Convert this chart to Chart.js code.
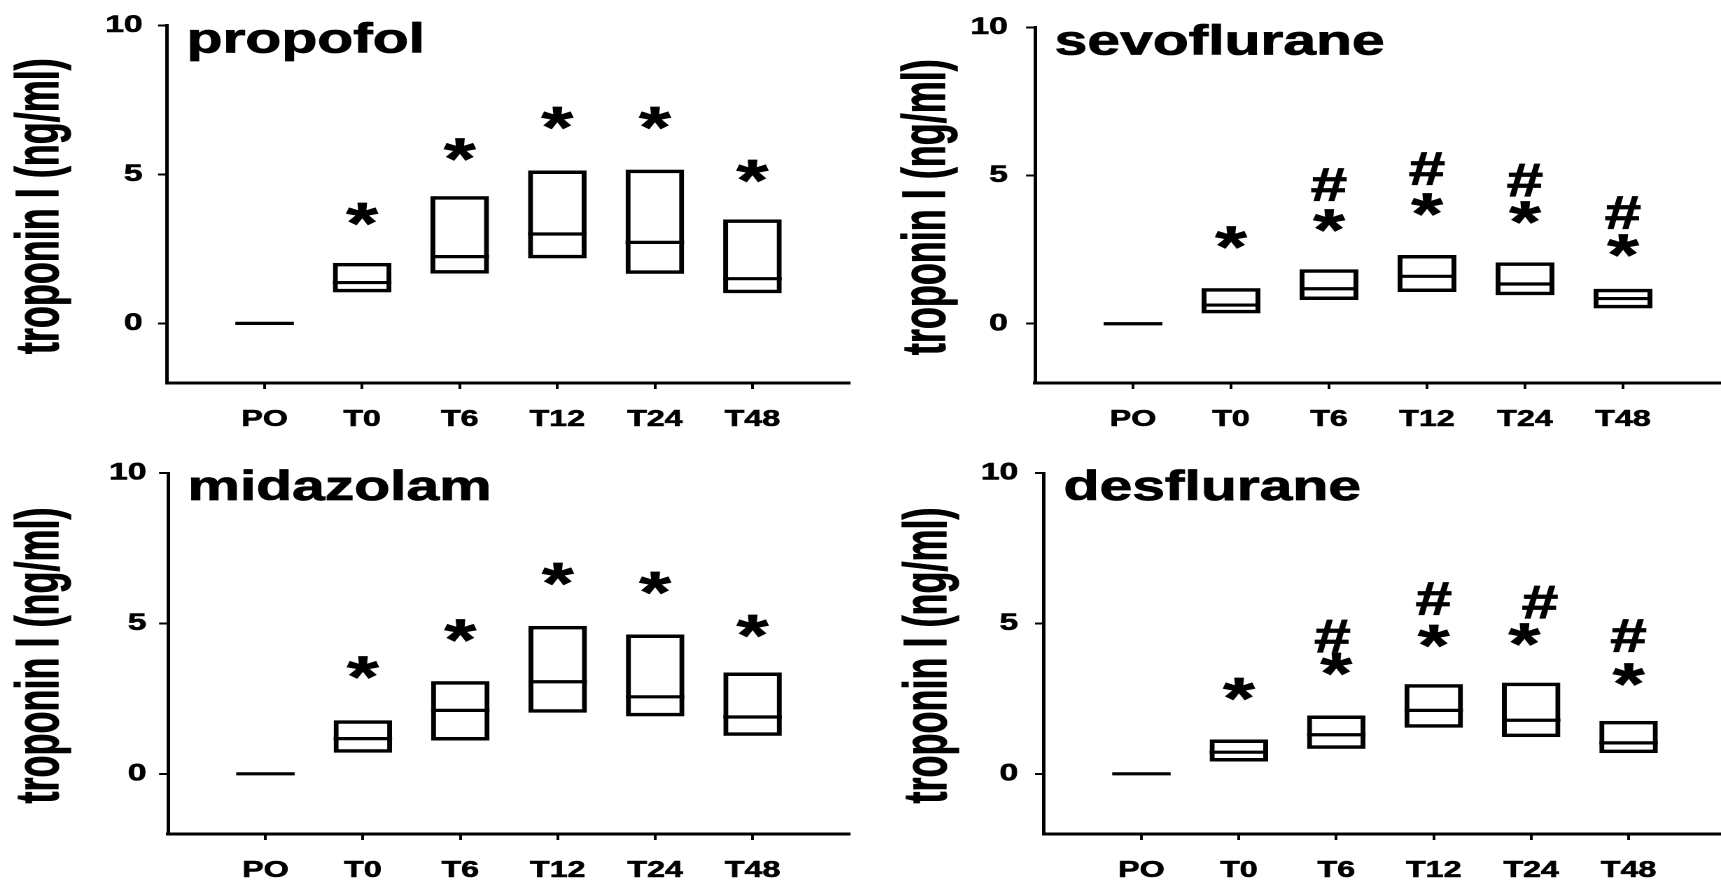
<!DOCTYPE html>
<html>
<head>
<meta charset="utf-8">
<script src="https://cdn.jsdelivr.net/npm/chart.js@4.4.1/dist/chart.umd.min.js"></script>
<style>
  html, body { margin: 0; padding: 0; background: #fff; overflow: hidden; }
  body { width: 1721px; height: 886px; position: relative; }
  .panel { position: absolute; transform-origin: 0 0; transform: scaleX(1.4); }
</style>
</head>
<body>
<div class="panel" style="left:0px;top:0px"><canvas id="c0"></canvas></div>
<div class="panel" style="left:860px;top:0px"><canvas id="c1"></canvas></div>
<div class="panel" style="left:0px;top:443px"><canvas id="c2"></canvas></div>
<div class="panel" style="left:860px;top:443px"><canvas id="c3"></canvas></div>
<script>
// categories and axis ticks
const xLabels = ['PO', 'T0', 'T6', 'T12', 'T24', 'T48'];
const yTicks = [0, 5, 10];
const yTitle = 'troponin I (ng/ml)';

// propofol: box low / median / high, marker heights
const propofolLow = [0, 1.04, 1.67, 2.18, 1.66, 1.01];
const propofolMedian = [0, 1.37, 2.24, 3.0, 2.72, 1.5];
const propofolHigh = [0, 2.03, 4.27, 5.13, 5.16, 3.49];
const propofolStar = [null, 3.66, 5.82, 6.88, 6.88, 5.1];
const propofolHash = [null, null, null, null, null, null];

// sevoflurane
const sevoLow = [0, 0.35, 0.8, 1.07, 0.96, 0.52];
const sevoMedian = [0, 0.63, 1.18, 1.6, 1.34, 0.85];
const sevoHigh = [0, 1.2, 1.84, 2.32, 2.07, 1.18];
const sevoStar = [null, 2.9, 3.47, 4.01, 3.73, 2.63];
const sevoHash = [null, null, 4.68, 5.23, 4.84, 3.73];

// midazolam
const midaLow = [0, 0.7, 1.11, 2.03, 1.91, 1.26];
const midaMedian = [0, 1.17, 2.11, 3.06, 2.56, 1.89];
const midaHigh = [0, 1.78, 3.08, 4.92, 4.63, 3.37];
const midaStar = [null, 3.52, 4.74, 6.63, 6.33, 4.89];
const midaHash = [null, null, null, null, null, null];

// desflurane
const desLow = [0, 0.41, 0.83, 1.53, 1.22, 0.69];
const desMedian = [0, 0.72, 1.3, 2.11, 1.78, 1.03];
const desHigh = [0, 1.14, 1.94, 2.98, 3.03, 1.76];
const desStar = [null, 2.8, 3.64, 4.56, 4.61, 3.28];
const desHash = [null, null, 4.56, 5.81, 5.69, 4.58];
const desStarShift = [0, 0, 0, 0, -0.07, 0];
const desHashShift = [0, 0, -0.04, 0, 0.09, 0];

const FONT = "'Liberation Sans', Arial, sans-serif";
const STRETCH = 1.4;      // the figure is drawn wider than tall
const BOX_HALF = 0.3;     // half box width in x units

// where each panel sits on the page (page pixels)
const panels = [
  { id: 'c0', name: 'propofol', low: propofolLow, med: propofolMedian, high: propofolHigh, star: propofolStar, hash: propofolHash,
    left: 0, top: 0, axisX: 167, rightX: 850, topY: 23, bottomY: 383, titleX: 41, tickPad: 11 },
  { id: 'c1', name: 'sevoflurane', low: sevoLow, med: sevoMedian, high: sevoHigh, star: sevoStar, hash: sevoHash,
    left: 860, top: 0, axisX: 1035, rightX: 1721, topY: 23, bottomY: 383, titleX: 928, tickPad: 13 },
  { id: 'c2', name: 'midazolam', low: midaLow, med: midaMedian, high: midaHigh, star: midaStar, hash: midaHash,
    left: 0, top: 443, axisX: 168, rightX: 850, topY: 473, bottomY: 834, titleX: 41, tickPad: 9 },
  { id: 'c3', name: 'desflurane', low: desLow, med: desMedian, high: desHigh, star: desStar, hash: desHash,
    starShift: desStarShift, hashShift: desHashShift,
    left: 860, top: 443, axisX: 1044, rightX: 1726, topY: 473, bottomY: 834, titleX: 929, tickPad: 12 }
];

function drawMark(ctx, ch, font, x, y) {
  ctx.font = font;
  const m = ctx.measureText(ch);
  ctx.textAlign = 'center';
  ctx.textBaseline = 'alphabetic';
  const yy = y + (m.actualBoundingBoxAscent - m.actualBoundingBoxDescent) / 2;
  ctx.fillText(ch, x, yy);
  ctx.strokeText(ch, x, yy);
}

function makeChart(p) {
  const canvas = document.getElementById(p.id);
  const innerRight = (p.rightX - p.left) / STRETCH;
  const w = Math.ceil(innerRight) + 3;
  canvas.width = w;
  canvas.height = 443;

  const boxes = [];
  const medians = [];
  xLabels.forEach((lab, i) => {
    if (p.high[i] > p.low[i]) boxes.push({ x: i + 1, y: [p.low[i], p.high[i]] });
    medians.push({ x: i + 1 - BOX_HALF, y: p.med[i] });
    medians.push({ x: i + 1 + BOX_HALF, y: p.med[i] });
    medians.push({ x: i + 1.5, y: null });
  });

  // panel name, y title, asterisks and hashes
  const marks = {
    id: 'marks',
    afterDraw(chart) {
      const { ctx, chartArea, scales } = chart;
      ctx.save();
      ctx.fillStyle = '#000';
      ctx.strokeStyle = '#000';
      ctx.lineWidth = 0.8;
      ctx.font = `bold 42px ${FONT}`;
      ctx.textAlign = 'left';
      ctx.textBaseline = 'alphabetic';
      ctx.fillText(p.name, chartArea.left + 14, chartArea.top + 27);
      ctx.strokeText(p.name, chartArea.left + 14, chartArea.top + 27);

      // rotated axis title, a bit heavier than the stock one
      ctx.save();
      ctx.translate((p.titleX - p.left) / STRETCH, (chartArea.top + chartArea.bottom) / 2 + 2);
      ctx.rotate(-Math.PI / 2);
      ctx.scale(1, 1.22);
      ctx.font = `bold 36px ${FONT}`;
      ctx.textAlign = 'center';
      ctx.textBaseline = 'middle';
      ctx.fillText(yTitle, 0, 0);
      ctx.lineWidth = 0.6;
      ctx.strokeText(yTitle, 0, 0);
      ctx.restore();

      ctx.lineWidth = 0.8;
      xLabels.forEach((lab, i) => {
        if (p.star[i] != null) {
          const dx = p.starShift ? p.starShift[i] : 0;
          drawMark(ctx, '*', `bold 58px ${FONT}`, scales.x.getPixelForValue(i + 1 + dx), scales.y.getPixelForValue(p.star[i]));
        }
        if (p.hash[i] != null) {
          const dx = p.hashShift ? p.hashShift[i] : 0;
          drawMark(ctx, '#', `bold 47px ${FONT}`, scales.x.getPixelForValue(i + 1 + dx), scales.y.getPixelForValue(p.hash[i]));
        }
      });
      ctx.restore();
    }
  };

  return new Chart(canvas, {
    type: 'bar',
    data: {
      datasets: [
        {
          type: 'bar',
          data: boxes,
          backgroundColor: 'rgba(0,0,0,0)',
          borderColor: '#000',
          borderWidth: 3.5,
          borderSkipped: false,
          barPercentage: 2 * BOX_HALF,
          categoryPercentage: 1,
          grouped: false
        },
        {
          type: 'line',
          data: medians,
          borderColor: '#000',
          borderWidth: 3.2,
          pointRadius: 0,
          spanGaps: false,
          tension: 0
        }
      ]
    },
    options: {
      responsive: false,
      animation: false,
      devicePixelRatio: 2,
      layout: { padding: { top: p.topY - p.top, right: w - innerRight, left: 0, bottom: 0 } },
      plugins: {
        legend: { display: false },
        tooltip: { enabled: false },
        title: { display: false }
      },
      scales: {
        x: {
          type: 'linear',
          min: 0,
          max: 7,
          offset: false,
          afterBuildTicks: a => { a.ticks = xLabels.map((lab, i) => ({ value: i + 1 })); },
          afterFit: a => { a.height = 443 - (p.bottomY - p.top); },
          grid: { offset: false, drawOnChartArea: false, drawTicks: true, tickLength: 6, tickWidth: 2, tickColor: '#000' },
          border: { display: true, color: '#000', width: 3 },
          ticks: {
            callback: v => xLabels[v - 1] || '',
            color: '#000',
            font: { family: FONT, size: 23, weight: 'bold' },
            textStrokeColor: '#000',
            textStrokeWidth: 0.6,
            padding: 17,
            maxRotation: 0,
            autoSkip: false
          }
        },
        y: {
          type: 'linear',
          min: -2,
          max: 10,
          afterBuildTicks: a => { a.ticks = yTicks.map(v => ({ value: v })); },
          afterFit: a => { a.width = (p.axisX - p.left) / STRETCH; },
          grid: { drawOnChartArea: false, drawTicks: true, tickLength: 6.4, tickWidth: 2, tickColor: '#000' },
          border: { display: true, color: '#000', width: 2.5 },
          ticks: {
            color: '#000',
            font: { family: FONT, size: 24, weight: 'bold' },
            textStrokeColor: '#000',
            textStrokeWidth: 0.6,
            padding: p.tickPad
          },
          title: { display: false, text: yTitle }
        }
      }
    },
    plugins: [marks]
  });
}

panels.forEach(makeChart);
</script>
</body>
</html>
